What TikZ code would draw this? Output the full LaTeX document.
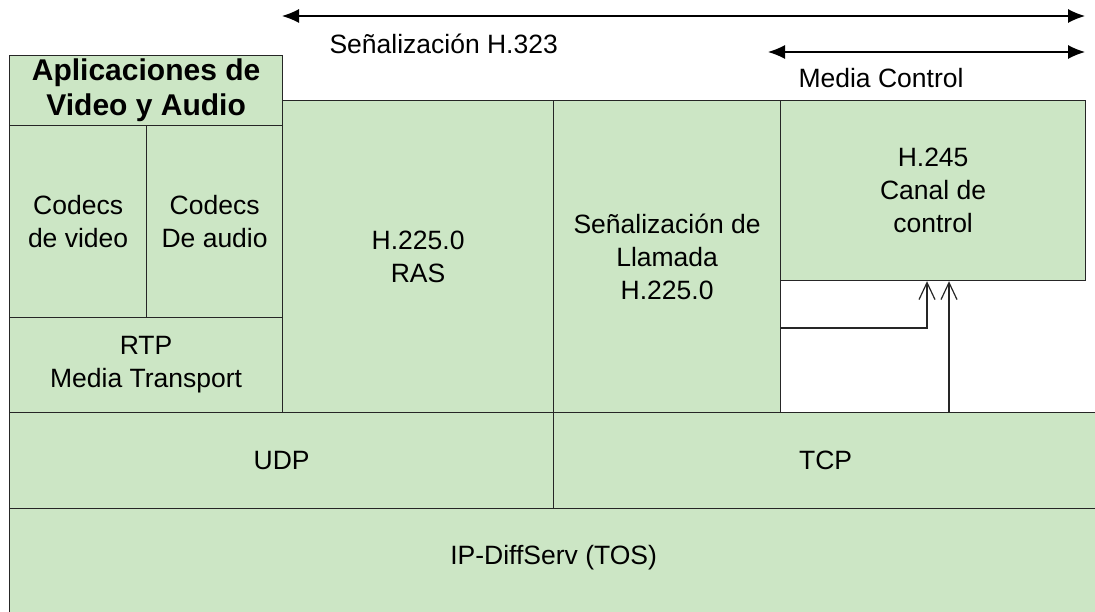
\documentclass[tikz,border=0pt]{standalone}
\usepackage{fontspec}
\setmainfont{Liberation Sans}
\usepackage{xcolor}
\usetikzlibrary{arrows.meta,positioning}

\definecolor{layergreen}{RGB}{204,230,197}

\begin{document}
\begin{tikzpicture}[x=1pt,y=-1pt,
	layer/.style={draw=black!85, fill=layergreen, line width=1.2pt, inner sep=0pt,
		anchor=north west, align=center, font=\fontsize{26.5}{33}\selectfont},
	headtext/.style={align=center, font=\fontsize{30}{35}\selectfont\bfseries},
	plaintext/.style={align=center, font=\fontsize{26.5}{33}\selectfont},
	spanarrow/.style={black, line width=1.2pt, {Latex[length=17pt,width=14pt]}-{Latex[length=17pt,width=14pt]}},
	ctlarrow/.style={black!85, line width=1.2pt, -{Straight Barb[length=17pt,width=16pt,line width=1.2pt]}}
	]
	
	% Parameters
	\def\leftx{9}
	\def\rasx{282}
	\def\senx{553}
	\def\ctlx{780}
	\def\topy{100}
	\def\tcpy{412}
	\def\ipy{508}
	
	\clip (0,0) rectangle (1095,612);
	\useasboundingbox (0,0) rectangle (1095,612);
	
	% application column
	\node[layer, minimum width=\rasx-\leftx, minimum height=70] (app) at (\leftx,55) {};
	\node[headtext] (apptext) at (app.center) {Aplicaciones de\\Video y Audio};
	\node[layer, minimum width=137, minimum height=192] (codecv) at (\leftx,125) {Codecs\\de video};
	\node[layer, minimum width=136, minimum height=192] (codeca) at (146,125) {Codecs\\De audio};
	\node[layer, minimum width=\rasx-\leftx, minimum height=95] (rtp) at (\leftx,317) {RTP\\Media Transport};
	
	% signalling columns
	\node[layer, minimum width=\senx-\rasx, minimum height=\tcpy-\topy] (ras) at (\rasx,\topy) {H.225.0\\RAS};
	\node[layer, minimum width=\ctlx-\senx, minimum height=\tcpy-\topy] (senal) at (\senx,\topy) {Señalización de\\Llamada\\H.225.0};
	\node[layer, minimum width=305, minimum height=180] (hcontrol) at (\ctlx,\topy) {H.245\\Canal de\\control};
	
	% transport and network
	\node[layer, minimum width=\senx-\leftx, minimum height=\ipy-\tcpy] (udp) at (\leftx,\tcpy) {UDP};
	\node[layer, minimum width=544, minimum height=\ipy-\tcpy] (tcp) at (\senx,\tcpy) {TCP};
	\node[layer, minimum width=1088, minimum height=200] (ip) at (\leftx,\ipy) {};
	\node[plaintext, yshift=-50pt] (iptext) at (ip.north) {IP-DiffServ (TOS)};
	
	% span arrows
	\coordinate (h323l) at (\rasx,16);
	\coordinate (h323r) at (1085,16);
	\draw[spanarrow] (h323l) -- (h323r);
	\node[plaintext, anchor=west] (h323text) at (326,44) {Señalización H.323};
	
	\coordinate (mcl) at (768,52);
	\coordinate (mcr) at (1085,52);
	\draw[spanarrow] (mcl) -- (mcr);
	\node[plaintext, anchor=west] (mctext) at (795,78) {Media Control};
	
	% control channel links
	\coordinate (linka) at (\ctlx,328);
	\coordinate (enda) at ([xshift=147pt]hcontrol.south west);
	\coordinate (endb) at ([xshift=169pt]hcontrol.south west);
	\draw[ctlarrow] (linka) -| (enda);
	\draw[ctlarrow] (endb |- tcp.north) -- (endb);
	
\end{tikzpicture}
\end{document}
